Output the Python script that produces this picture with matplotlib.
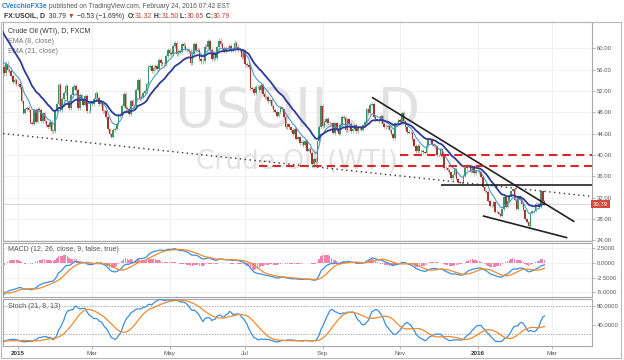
import numpy as np
import pandas as pd
import matplotlib
matplotlib.use("Agg")
import matplotlib.pyplot as plt
import matplotlib.transforms as mtrans
from matplotlib.patches import Rectangle

plt.rcParams['font.family'] = ['Liberation Sans', 'DejaVu Sans']

W, H = 624, 360

# daily closes (weekdays), FX:USOIL
# warm-up bars Oct 20 - Dec 19 2014, only feed the indicators
warmup_close = [82.71, 82.49, 80.52, 82.09, 81.01, 81.00, 81.42, 82.20, 81.12, 80.54,
                78.78, 77.19, 78.68, 77.91, 78.65, 77.40, 77.94, 77.18, 74.21, 75.82,
                75.64, 74.61, 74.58, 75.58, 76.51, 75.78, 74.09, 73.69, 69.00, 66.15,
                69.00, 66.88, 67.38, 66.81, 65.84, 63.05, 63.82, 60.94, 59.95, 57.81,
                55.91, 55.93, 56.47, 54.11, 56.52]
dec14 = [55.26, 57.12, 55.84, 55.80, 54.73, 53.61, 54.12, 53.27]
jan15 = [53.27, 52.69, 50.04, 47.93, 48.65, 48.79, 48.36, 46.07, 45.89, 48.48, 46.25,
         48.69, 48.50, 46.39, 47.78, 46.31, 45.59, 45.15, 46.23, 44.45, 44.53, 48.24]
feb15 = [49.57, 53.05, 48.45, 50.48, 51.69, 52.86, 50.02, 48.84, 51.21, 52.78,
         53.00, 52.14, 48.84, 51.16, 50.34, 49.45, 50.99, 48.17, 48.17, 49.76]
mar15 = [49.59, 50.52, 51.53, 50.76, 49.61, 50.00, 48.29, 48.17, 47.05, 44.84, 43.88,
         43.46, 44.66, 44.96, 45.72, 47.45, 47.51, 49.21, 51.43, 48.87, 48.68, 47.60]
apr15 = [50.09, 49.14, 49.10, 52.14, 53.98, 50.42, 50.79, 51.64, 51.91, 53.29, 56.39,
         56.71, 55.74, 56.38, 56.61, 56.16, 57.74, 57.15, 56.99, 57.06, 58.58, 59.63]
may15 = [59.15, 58.93, 60.40, 60.93, 58.94, 59.39, 59.25, 60.75, 60.50, 59.88, 59.69,
         59.43, 57.26, 58.98, 60.72, 59.72, 59.70, 58.03, 57.51, 57.68, 60.30]
jun15 = [60.20, 61.26, 59.64, 58.00, 59.13, 58.14, 60.14, 61.43, 60.77, 59.96, 59.52,
         59.97, 59.92, 60.45, 59.61, 59.68, 61.01, 60.27, 59.70, 59.63, 58.33, 59.47]
jul15 = [56.96, 56.93, 56.50, 52.53, 52.33, 51.65, 52.78, 52.74, 52.20, 53.04, 51.41, 50.91,
         50.89, 50.15, 50.36, 49.19, 48.45, 48.14, 47.39, 47.98, 48.79, 48.52, 47.12]
aug15 = [45.17, 45.74, 45.15, 44.66, 43.87, 44.96, 43.08, 43.30, 42.23, 42.50, 41.87,
         42.62, 40.80, 41.14, 40.45, 38.24, 39.31, 38.60, 42.56, 45.22, 49.20]
sep15 = [45.41, 46.25, 46.75, 46.05, 45.90, 45.94, 44.15, 45.92, 44.63, 44.00, 45.59,
         47.15, 46.90, 44.68, 46.68, 45.83, 44.48, 44.91, 45.70, 44.43, 45.23, 45.09]
oct15 = [44.74, 45.54, 46.26, 48.53, 47.81, 49.43, 49.63, 47.10, 46.66, 46.64, 46.38,
         47.26, 45.89, 45.29, 45.20, 45.38, 44.60, 43.98, 43.20, 45.94, 46.06, 46.59]
nov15 = [46.14, 47.90, 46.32, 45.20, 44.29, 44.21, 44.21, 42.93, 41.75, 40.74, 41.74,
         40.67, 40.75, 40.54, 40.39, 41.75, 42.87, 42.80, 42.00, 41.71, 41.65]
dec15 = [39.94, 39.94, 41.08, 39.97, 37.65, 37.51, 37.16, 36.76, 35.62, 36.31, 37.35, 35.52,
         34.95, 34.73, 34.74, 36.14, 37.50, 38.10, 38.10, 36.81, 37.87, 36.60, 37.04]
jan16 = [37.04, 36.76, 35.97, 33.97, 33.27, 33.16, 31.41, 30.44, 30.48, 31.20, 29.42,
         29.30, 29.00, 28.60, 29.80, 32.19, 30.34, 31.45, 32.30, 33.22, 33.62]
feb16 = [31.62, 29.88, 32.28, 31.72, 30.89, 29.69, 27.94, 27.45, 26.70, 29.20,
         29.50, 29.60, 30.90, 30.90, 30.30, 33.20, 31.32, 30.79]

# drawn lines: (start date, start price, end date, end price)
dotted_trend = ("2014-12-22", 44.0, "2016-02-24", 33.2)
upper_trend = ("2015-10-09", 50.8, "2016-03-18", 27.5)
lower_trend = ("2016-01-06", 28.6, "2016-03-14", 24.5)
support = ("2015-12-03", 34.4, "2016-04-01", 34.4)
red_levels = [("2015-11-02", 39.95), ("2015-07-13", 37.9)]

x_ticks = ["2015-01-01", "2015-03-01", "2015-05-01", "2015-07-01", "2015-09-01",
           "2015-11-01", "2016-01-01", "2016-03-01"]
x_labels = ["2015", "Mar", "May", "Jul", "Sep", "Nov", "2016", "Mar"]

close = np.array(warmup_close + dec14 + jan15 + feb15 + mar15 + apr15 + may15 + jun15
                 + jul15 + aug15 + sep15 + oct15 + nov15 + dec15 + jan16 + feb16)
n0 = len(warmup_close)
x = np.arange(len(close)) - n0
opn = np.r_[close[0], close[:-1]]
wick = 0.007 * close
high = np.maximum(opn, close) + wick
low = np.minimum(opn, close) - wick

s = pd.Series(close)
ema8 = s.ewm(span=8, adjust=False).mean()
ema21 = s.ewm(span=21, adjust=False).mean()
macd = s.ewm(span=12, adjust=False).mean() - s.ewm(span=26, adjust=False).mean()
signal = macd.rolling(9).mean()
hist = macd - signal
ll = pd.Series(low).rolling(21).min()
hh = pd.Series(high).rolling(21).max()
k = (100 * (s - ll) / (hh - ll)).rolling(8).mean()
d = k.rolling(13).mean()


def bar_of(day):
    return np.busday_count("2014-12-22", day)


def px_rect(x0, y0, x1, y1):
    return [x0 / W, 1 - y1 / H, (x1 - x0) / W, (y1 - y0) / H]


fig = plt.figure(figsize=(W / 100, H / 100), dpi=100)
ax = fig.add_axes(px_rect(3, 22, 592, 241))
axm = fig.add_axes(px_rect(3, 243, 592, 297), sharex=ax)
axs = fig.add_axes(px_rect(3, 299, 592, 346), sharex=ax)

tick_pos = [bar_of(t) for t in x_ticks]
for a in (ax, axm, axs):
    a.set_xlim(-0.6, 334)
    for sp in a.spines.values():
        sp.set_color('#a8a8a8')
        sp.set_linewidth(0.8)
    a.yaxis.tick_right()
    a.tick_params(axis='y', labelsize=4.3, labelcolor='#555555', length=2,
                  width=0.5, color='#999999', pad=1.5)
    a.tick_params(axis='x', length=2, width=0.5, color='#999999')
    for t in tick_pos:
        a.axvline(t, color='#ececec', lw=0.6, zorder=0)
    a.set_xticks(tick_pos)

for a in (ax, axm):
    a.tick_params(axis='x', labelbottom=False, length=0)

# main price panel
ax.set_ylim(23.9, 64.9)
ax.set_yticks(np.arange(24, 61, 4))
ax.set_yticklabels([f"{v:.2f}" for v in np.arange(24, 61, 4)])
for v in np.arange(24, 61, 4):
    ax.axhline(v, color='#f0f0f0', lw=0.6, zorder=0)

ax.text(0.501, 0.589, "USOIL, D", transform=ax.transAxes, ha='center', va='center',
        fontsize=40, color='#e2e2e2', family='DejaVu Sans', zorder=0.5)
ax.text(0.499, 0.361, "Crude Oil (WTI)", transform=ax.transAxes, ha='center', va='center',
        fontsize=19, color='#e2e2e2', family='DejaVu Sans', zorder=0.5)

up = close >= opn
col = np.where(up, '#3a9466', '#a3352e')
wick_col = np.where(up, '#86bfa1', '#cf9691')
ax.vlines(x, low, high, colors=wick_col, lw=0.6, zorder=2)
ax.bar(x, close - opn, bottom=opn, width=0.9, color=col, linewidth=0, zorder=3)
ax.plot(x, ema8, color='#4e9bc4', lw=0.8, zorder=4)
ax.plot(x, ema21, color='#2c3a9a', lw=1.3, zorder=4)

x0, y0, x1, y1 = dotted_trend
ax.axline((bar_of(x0), y0), (bar_of(x1), y1), color='#333333', lw=1.0,
          ls=(0, (1, 2.5)), zorder=5)
for ln in (upper_trend, lower_trend, support):
    x0, y0, x1, y1 = ln
    ax.plot([bar_of(x0), bar_of(x1)], [y0, y1], color='#222222', lw=1.2, zorder=5,
            solid_capstyle='butt')
for day, lvl in red_levels:
    ax.plot([bar_of(day), 334], [lvl, lvl], color='#d62828', lw=1.5, ls=(0, (4, 2.5)),
            zorder=5)

last = close[-1]
ax.axhline(last, color='#c8c8c8', lw=0.5, zorder=1)
ax.text(1.002, last, f"{last:.2f}", transform=mtrans.blended_transform_factory(
    ax.transAxes, ax.transData), ha='left', va='center', fontsize=4.3, color='white',
    bbox=dict(boxstyle='square,pad=0.3', fc='#d6473c', ec='none'), clip_on=False)

ax.text(0.0085, 0.955, "Crude Oil (WTI), D, FXCM", transform=ax.transAxes, fontsize=5,
        color='#333333', va='center')
ax.text(0.0085, 0.910, "EMA (8, close)", transform=ax.transAxes, fontsize=5,
        color='#777777', va='center')
ax.text(0.0085, 0.864, "EMA (21, close)", transform=ax.transAxes, fontsize=5,
        color='#777777', va='center')

# MACD panel
axm.set_ylim(-5.8, 3.41)
axm.set_yticks([2.5, 0, -2.5, -5])
axm.set_yticklabels(["2.5000", "0.0000", "-2.5000", "-5.0000"])
for v in [2.5, 0, -2.5, -5]:
    axm.axhline(v, color='#f0f0f0', lw=0.6, zorder=0)
axm.bar(x, hist, width=0.8, color='#f06b9f', alpha=0.85, linewidth=0, zorder=2)
axm.plot(x, macd, color='#3b8fe0', lw=0.9, zorder=3)
axm.plot(x, signal, color='#f28a2e', lw=0.9, zorder=3)
axm.text(0.0085, 0.88, "MACD (12, 26, close, 9, false, true)", transform=axm.transAxes,
         fontsize=5, color='#555555', va='center')

# Stochastic panel
axs.set_ylim(-5.7, 95)
axs.set_yticks([80, 40])
axs.set_yticklabels(["80.0000", "40.0000"])
for v in (80, 20):
    axs.axhline(v, color='#8a8a8a', lw=0.5, ls=(0, (2, 2)), zorder=1)
axs.plot(x, k, color='#3b8fe0', lw=0.9, zorder=3)
axs.plot(x, d, color='#f28a2e', lw=0.9, zorder=3)
axs.text(0.0085, 0.83, "Stoch (21, 8, 13)", transform=axs.transAxes, fontsize=5,
         color='#555555', va='center')
axs.set_xticklabels(x_labels)
axs.tick_params(axis='x', labelsize=4.5, labelcolor='#555555', pad=1.5)
for lab in axs.get_xticklabels():
    if lab.get_text().isdigit():
        lab.set_fontweight('bold')
        lab.set_color('#333333')

fig.patches.append(Rectangle((1 / W, 1 - 358 / H), 620 / W, 336 / H, transform=fig.transFigure,
                             fill=False, ec='#b8b8b8', lw=0.8))

# header rows
renderer = fig.canvas.get_renderer()


def put_row(x_px, y_px, pieces, size):
    xp = x_px
    for txt, color, weight in pieces:
        t = fig.text(xp / W, 1 - y_px / H, txt, color=color, fontsize=size,
                     fontweight=weight, va='center', ha='left')
        xp += t.get_window_extent(renderer=renderer).width


red = '#b8433a'
dark = '#333333'
put_row(2, 6, [("CVecchioFX3e", '#2d7fc4', 'bold'),
               (" published on TradingView.com, February 24, 2016 07:42 EST", '#555555',
                'normal')], 4.8)
put_row(4, 16.5, [("FX:USOIL, D", dark, 'bold'), ("  30.79 ", dark, 'normal'),
                  ("▼", red, 'normal'), (" \u22120.53 (\u22121.69%)  ", dark, 'normal'),
                  ("O:", dark, 'bold'), ("31.32", red, 'normal'), (" H:", dark, 'bold'),
                  ("31.50", red, 'normal'), (" L:", dark, 'bold'), ("30.65", red, 'normal'),
                  (" C:", dark, 'bold'), ("30.79", red, 'normal')], 4.95)

fig.savefig("out.png", dpi=100)
